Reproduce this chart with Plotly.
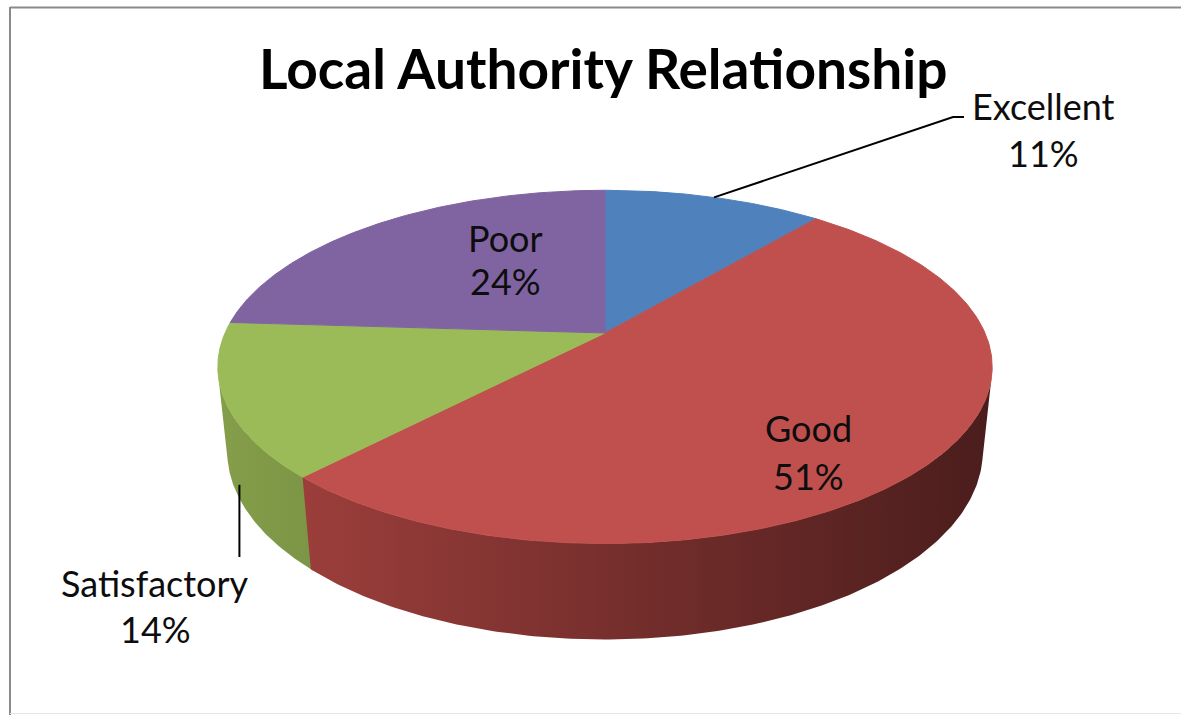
import numpy as np
import plotly.graph_objects as go

# ---------------- data ----------------
categories = ["Excellent", "Good", "Satisfactory", "Poor"]
values = [11, 51, 14, 24]
pct_labels = ["11%", "51%", "14%", "24%"]
title_text = "Local Authority Relationship"

# ---------------- styles ----------------
top_colors = ["#4F81BD", "#C0504D", "#9BBB59", "#8064A2"]
side_light = ["#42699a", "#a5423f", "#849e4a", "#6b5488"]
side_dark = ["#23374f", "#4a1d1c", "#46552a", "#3a2d4a"]

W, H = 1181, 715
CX, CY = 605, 333          # pie apex (pixels)
SCALE = 380                # radius scale (pixels)
ELEV = np.radians(26.6)    # view elevation
DIST = 4.66                # camera distance (radius units)
THICK = 0.25               # pie thickness (radius units)
FONT = "Lato"


def project(theta_deg, r=1.0, h=0.0):
    t = np.radians(theta_deg)
    u = r * np.sin(t)
    v = r * np.cos(t)
    depth = v * np.cos(ELEV) - h * np.sin(ELEV)
    f = DIST / (DIST + depth)
    x = CX + u * f * SCALE
    y = CY - (v * np.sin(ELEV) + h * np.cos(ELEV)) * f * SCALE
    return x, y


total = float(sum(values))
bounds = np.concatenate([[0.0], np.cumsum(values) / total * 360.0])

# visible wall range (perspective silhouette)
c_lim = -1.0 / (DIST * np.cos(ELEV))
vis_a = np.degrees(np.arccos(c_lim))
vis_b = 360.0 - vis_a

xs_all, _ = project(np.linspace(0, 360, 721))
gx0, gx1 = xs_all.min(), xs_all.max()

fig = go.Figure()

# ---- side walls (drawn first; green slightly overlapped for seamless join) ----
wall_order = [2, 1, 0, 3]
for i in wall_order:
    a, b = bounds[i], bounds[i + 1]
    if i == 2:
        a -= 0.6
    a2, b2 = max(a, vis_a), min(b, vis_b)
    if a2 >= b2:
        continue
    th = np.linspace(a2, b2, 200)
    xt, yt = project(th, 1.0, 0.0)
    xb, yb = project(th[::-1], 1.0, -THICK)
    xs = np.concatenate([xt, xb, xt[:1]])
    ys = np.concatenate([yt, yb, yt[:1]])
    fig.add_trace(go.Scatter(
        x=xs, y=ys, mode="lines", fill="toself",
        line=dict(width=0, color=side_light[i]),
        fillcolor=side_light[i],
        fillgradient=dict(type="horizontal", start=gx0, stop=gx1,
                          colorscale=[[0, side_light[i]], [1, side_dark[i]]]),
        hoverinfo="skip", showlegend=False))

# ---- top faces ----
for i in range(len(values)):
    a, b = bounds[i], bounds[i + 1]
    th = np.linspace(a, b, 300)
    xt, yt = project(th, 1.0, 0.0)
    xs = np.concatenate([[CX], xt, [CX]])
    ys = np.concatenate([[CY], yt, [CY]])
    fig.add_trace(go.Scatter(
        x=xs, y=ys, mode="lines", fill="toself",
        line=dict(width=1, color=top_colors[i]),
        fillcolor=top_colors[i],
        hoverinfo="skip", showlegend=False))

# ---- leader lines ----
mid_exc = (bounds[0] + bounds[1]) / 2
ex, ey = project(mid_exc, 1.0, 0.0)
fig.add_trace(go.Scatter(x=[ex, 953, 964], y=[ey, 117, 117], mode="lines",
                         line=dict(color="black", width=2),
                         hoverinfo="skip", showlegend=False))
mid_sat = (bounds[2] + bounds[3]) / 2
sx, sy = project(mid_sat, 1.0, -THICK)
fig.add_trace(go.Scatter(x=[sx + 5, sx + 5], y=[sy - 3, 557], mode="lines",
                         line=dict(color="black", width=2),
                         hoverinfo="skip", showlegend=False))

# ---- labels ----
label_pos = {
    "Excellent": (1043, 106, 153),
    "Good": (808, 428, 476),
    "Satisfactory": (155, 583, 629),
    "Poor": (505, 238, 281),
}
annotations = []
for name, pct in zip(categories, pct_labels):
    lx, y1, y2 = label_pos[name]
    for txt, yy in ((name, y1), (pct, y2)):
        annotations.append(dict(x=lx, y=yy, xref="x", yref="y", text=txt,
                                showarrow=False, xanchor="center", yanchor="middle",
                                font=dict(family=FONT, size=36, color="#0d0d0d")))
annotations.append(dict(x=603, y=68, xref="x", yref="y", text="<b>" + title_text + "</b>",
                        showarrow=False, xanchor="center", yanchor="middle",
                        font=dict(family=FONT, size=55, color="#000000")))

# ---- frame ----
shapes = [
    dict(type="line", xref="x", yref="y", x0=10, x1=1181, y0=7.5, y1=7.5,
         line=dict(color="#8a8a8a", width=2)),
    dict(type="line", xref="x", yref="y", x0=10, x1=10, y0=7, y1=715,
         line=dict(color="#8a8a8a", width=2)),
    dict(type="line", xref="x", yref="y", x0=10, x1=1181, y0=713.5, y1=713.5,
         line=dict(color="#e6e6e6", width=1)),
]

fig.update_layout(
    width=W, height=H,
    margin=dict(l=0, r=0, t=0, b=0),
    paper_bgcolor="white", plot_bgcolor="white",
    xaxis=dict(range=[0, W], visible=False, fixedrange=True),
    yaxis=dict(range=[H, 0], visible=False, fixedrange=True),
    annotations=annotations,
    shapes=shapes,
    showlegend=False,
)

fig.write_html(
    "out.html", config={"displayModeBar": False},
    post_script=("document.documentElement.style.overflow='hidden';"
                 "document.body.style.margin='0px';"
                 "document.body.style.overflow='hidden';"))
